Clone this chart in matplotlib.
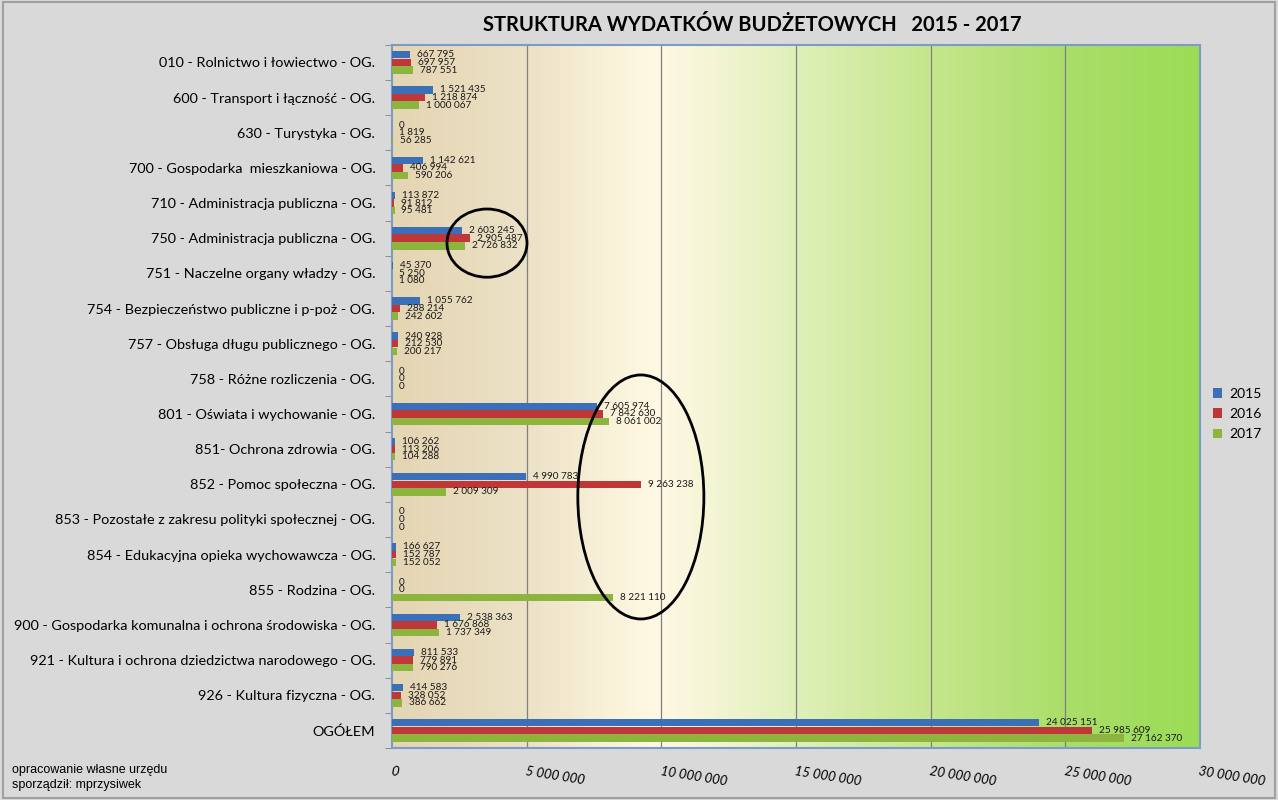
import numpy as np
import matplotlib.pyplot as plt
from matplotlib.colors import LinearSegmentedColormap
from matplotlib.patches import Ellipse, Rectangle

plt.rcParams['font.family'] = ['Lato', 'DejaVu Sans']

# dane
categories = [
    "010 - Rolnictwo i łowiectwo - OG.",
    "600 - Transport i łączność - OG.",
    "630 - Turystyka - OG.",
    "700 - Gospodarka  mieszkaniowa - OG.",
    "710 - Administracja publiczna - OG.",
    "750 - Administracja publiczna - OG.",
    "751 - Naczelne organy władzy - OG.",
    "754 - Bezpieczeństwo publiczne i p-poż - OG.",
    "757 - Obsługa długu publicznego - OG.",
    "758 - Różne rozliczenia - OG.",
    "801 - Oświata i wychowanie - OG.",
    "851- Ochrona zdrowia - OG.",
    "852 - Pomoc społeczna - OG.",
    "853 - Pozostałe z zakresu polityki społecznej - OG.",
    "854 - Edukacyjna opieka wychowawcza - OG.",
    "855 - Rodzina - OG.",
    "900 - Gospodarka komunalna i ochrona środowiska - OG.",
    "921 - Kultura i ochrona dziedzictwa narodowego - OG.",
    "926 - Kultura fizyczna - OG.",
    "OGÓŁEM",
]
w2015 = [667795, 1521435, 0, 1142621, 113872, 2603245, 45370, 1055762, 240928, 0,
         7605974, 106262, 4990783, 0, 166627, 0, 2538363, 811533, 414583, 24025151]
w2016 = [697957, 1218874, 1819, 406994, 91812, 2905487, 5250, 288214, 212530, 0,
         7842630, 113206, 9263238, 0, 152787, 0, 1676868, 779891, 328052, 25985609]
w2017 = [787551, 1000067, 56285, 590206, 95481, 2726832, 1080, 242602, 200217, 0,
         8061002, 104288, 2009309, 0, 152052, 8221110, 1737349, 790276, 386662, 27162370]
years = ["2015", "2016", "2017"]
x_ticks = [0, 5000000, 10000000, 15000000, 20000000, 25000000, 30000000]

def fmt(v):
    return f"{v:,}".replace(",", " ")

fig = plt.figure(figsize=(12.78, 8.0), dpi=100, facecolor='#d9d9d9')
fig.patches.append(Rectangle((0.002, 0.002), 0.996, 0.996, transform=fig.transFigure,
                             fill=False, edgecolor='#a0a0a0', lw=1.5))
ax = fig.add_axes([0.3067, 0.065, 0.6323, 0.879])

n = len(categories)
y = np.arange(n)

# tlo - gradient
grad_cmap = LinearSegmentedColormap.from_list('tlo', [
    (0.0, '#e4d5b3'), (0.166, '#ece2c6'), (0.30, '#fdf6df'), (0.335, '#fff8e4'),
    (0.5, '#dff0b9'), (0.667, '#c5e68c'), (0.833, '#aade6a'), (1.0, '#9bdc55')])
grad = np.linspace(0, 1, 512).reshape(1, -1)
ax.imshow(grad, extent=[0, 30000000, n - 0.5, -0.5], aspect='auto', cmap=grad_cmap, zorder=0)

kolory = ['#3b6fb8', '#c0373a', '#8cb43e']
h = 0.21
for i, (vals, kol, rok) in enumerate(zip([w2015, w2016, w2017], kolory, years)):
    pos = y + (i - 1) * 0.217
    ax.barh(pos, vals, height=h, color=kol, label=rok, zorder=3)
    for p, v in zip(pos, vals):
        ax.annotate(fmt(v), (v, p), xytext=(5, 0), textcoords='offset points',
                    va='center', ha='left', fontsize=7.2, color='#1a1a1a', zorder=4)

for xv in x_ticks[1:-1]:
    ax.axvline(xv, color='#808080', lw=0.9, zorder=1)

ax.set_xlim(0, 30000000)
ax.set_ylim(n - 0.5, -0.5)
ax.set_yticks(y)
ax.set_yticklabels(categories, fontsize=10.4)
ax.set_yticks(np.arange(n + 1) - 0.5, minor=True)
ax.tick_params(axis='y', which='major', length=0, pad=12)
ax.tick_params(axis='y', which='minor', length=5, color='#808080')
ax.set_xticks(x_ticks)
ax.set_xticklabels([fmt(t) for t in x_ticks], fontsize=9.5, rotation=-9,
                   ha='left', va='top', rotation_mode='anchor', style='italic')
ax.tick_params(axis='x', length=0, pad=12)
for s in ax.spines.values():
    s.set_color('#7b9bc8')
    s.set_linewidth(1.5)

# elipsy
ax.add_patch(Ellipse((0.1176, 0.718), 0.099, 0.097, transform=ax.transAxes,
                     fill=False, edgecolor='black', lw=2, zorder=5, clip_on=False))
ax.add_patch(Ellipse((0.308, 0.357), 0.156, 0.347, transform=ax.transAxes,
                     fill=False, edgecolor='black', lw=2, zorder=5, clip_on=False))

fig.legend(loc='center left', bbox_to_anchor=(0.939, 0.4825), frameon=False,
           fontsize=10, handlelength=0.7, handleheight=0.7, handletextpad=0.5,
           labelspacing=0.6)

fig.text(0.589, 1 - 25 / 800, "STRUKTURA WYDATKÓW BUDŻETOWYCH   2015 - 2017",
         ha='center', va='center', fontsize=14.5, fontweight='bold')
fig.text(0.009, 1 - 770 / 800, "opracowanie własne urzędu", fontsize=9,
         family=['Liberation Sans', 'DejaVu Sans'], va='center')
fig.text(0.009, 1 - 785 / 800, "sporządził: mprzysiwek", fontsize=9,
         family=['Liberation Sans', 'DejaVu Sans'], va='center')

fig.savefig('out.png', dpi=100, facecolor=fig.get_facecolor())
